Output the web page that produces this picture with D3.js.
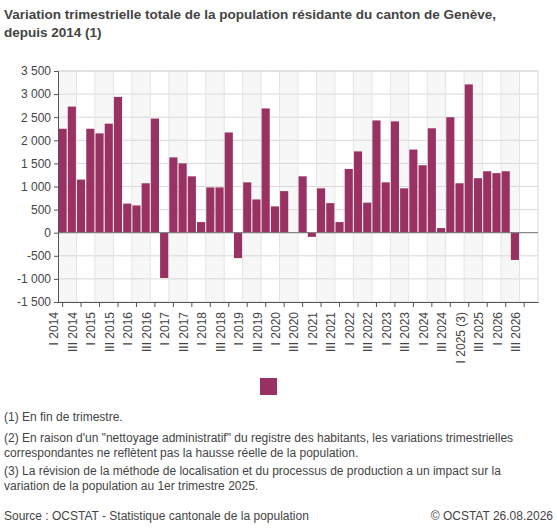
<!DOCTYPE html><html><head><meta charset="utf-8"><script src="https://cdn.jsdelivr.net/npm/d3@7"></script>
<style>body{margin:0;background:#fff;font-family:"Liberation Sans",Arial,sans-serif}</style></head><body><svg id="c" width="557" height="528"></svg>
<script>
const years=d3.range(2014,2027);
const quarters=[];years.forEach(y=>["I","II","III","IV"].forEach(q=>quarters.push(q+" "+y)));
const values=[2250,2730,1150,2250,2150,2360,2940,630,590,1070,2470,-980,1630,1500,1220,230,980,980,2170,-550,1090,720,2690,570,900,5,1220,-90,960,640,230,1380,1760,650,2430,1090,2410,960,1800,1460,2260,100,2500,1070,3210,1180,1330,1290,1330,-590,null,null];
const yTicks=[-1500,-1000,-500,0,500,1000,1500,2000,2500,3000,3500];
const fmt=v=>d3.format(",")(v).replace(/,/g," ").replace("\u2212","-");
const svg=d3.select("#c");
const L=58,R=538,T=71,B=302;
const x=d3.scaleBand().domain(quarters).range([L,R]).paddingInner(0.12).paddingOuter(0.06);
const y=d3.scaleLinear().domain([-1500,3500]).range([B,T]);
for(let i=0;i<quarters.length;i+=4){svg.append("rect").attr("x",L+i*(R-L)/52).attr("y",T).attr("width",2*(R-L)/52).attr("height",B-T).attr("fill","#f7f7f7");}
svg.selectAll(".g").data(yTicks).join("line").attr("x1",L).attr("x2",R).attr("y1",d=>y(d)).attr("y2",d=>y(d)).attr("stroke","#d8d8d8");
for(let i=2;i<52;i+=2){svg.append("line").attr("x1",L+i*(R-L)/52).attr("x2",L+i*(R-L)/52).attr("y1",T).attr("y2",B).attr("stroke","#e4e4e4");}
svg.append("line").attr("x1",R).attr("x2",R).attr("y1",T).attr("y2",B).attr("stroke","#d8d8d8");
svg.append("line").attr("x1",L).attr("x2",R).attr("y1",T).attr("y2",T).attr("stroke","#d8d8d8");
svg.selectAll(".b").data(values.map((v,i)=>({v,q:quarters[i]})).filter(d=>d.v!=null)).join("rect")
 .attr("x",d=>x(d.q)).attr("width",x.bandwidth()).attr("y",d=>y(Math.max(0,d.v))).attr("height",d=>Math.abs(y(d.v)-y(0))).attr("fill","#993162");
svg.append("line").attr("x1",L).attr("x2",R).attr("y1",y(0)).attr("y2",y(0)).attr("stroke","#777");
const ya=svg.append("g").attr("transform",`translate(${L},0)`).call(d3.axisLeft(y).tickValues(yTicks).tickFormat(fmt).tickSize(4));
ya.selectAll("text").attr("fill","#444").style("font-size","12px").style("font-family","Liberation Sans, Arial");
ya.selectAll("line,path").attr("stroke","#555");
const xa=svg.append("g").attr("transform",`translate(0,${B})`).call(d3.axisBottom(x).tickValues(quarters.filter((q,i)=>i%2==0)).tickFormat(d=>d==="I 2025"?"I 2025 (3)":d).tickSize(5).tickSizeOuter(0));
xa.selectAll("line,path").attr("stroke","#555");
xa.selectAll("text").attr("fill","#444").style("font-size","12px").style("font-family","Liberation Sans, Arial").attr("transform","rotate(-90)").attr("text-anchor","end").attr("dx","-0.5em").attr("dy","-0.35em").attr("x",-4).attr("y",0);
svg.append("text").attr("x",4).attr("y",19).text("Variation trimestrielle totale de la population résidante du canton de Genève,").attr("font-weight","bold").attr("font-size","13.5px").attr("fill","#444");
svg.append("text").attr("x",4).attr("y",37).text("depuis 2014 (1)").attr("font-weight","bold").attr("font-size","13.5px").attr("fill","#444");
svg.append("rect").attr("x",260).attr("y",378).attr("width",17).attr("height",17).attr("fill","#993162");
const notes=[["(1) En fin de trimestre.",421],["(2) En raison d'un \"nettoyage administratif\" du registre des habitants, les variations trimestrielles",442],["correspondantes ne reflètent pas la hausse réelle de la population.",457],["(3) La révision de la méthode de localisation et du processus de production a un impact sur la",475],["variation de la population au 1er trimestre 2025.",490]];
notes.forEach(n=>svg.append("text").attr("x",4).attr("y",n[1]).text(n[0]).attr("font-size","12px").attr("fill","#444"));
svg.append("text").attr("x",4).attr("y",520).text("Source : OCSTAT - Statistique cantonale de la population").attr("font-size","12px").attr("fill","#444");
svg.append("text").attr("x",553).attr("y",520).attr("text-anchor","end").text("© OCSTAT 26.08.2026").attr("font-size","12px").attr("fill","#444");
</script></body></html>
